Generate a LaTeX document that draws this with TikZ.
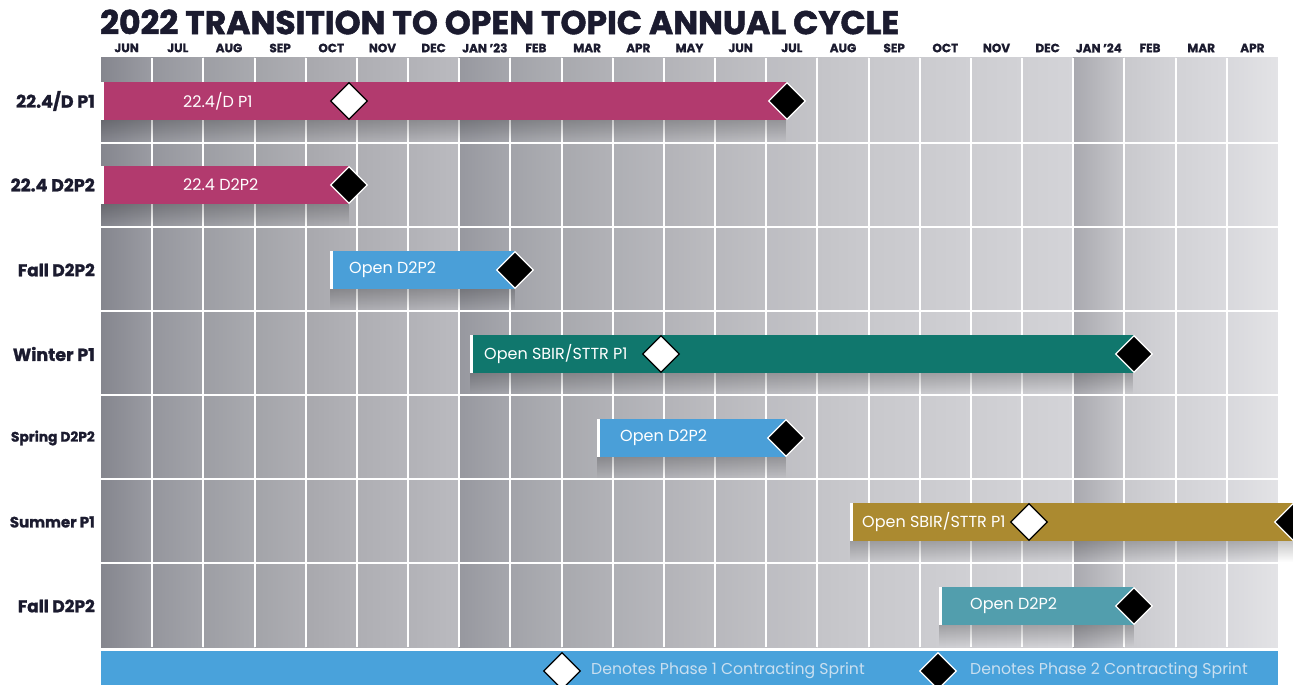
\documentclass[tikz,border=0pt]{standalone}
\usepackage{fontspec}
\setmainfont{Poppins}
\usetikzlibrary{shapes.geometric,fadings}
\definecolor{titleink}{HTML}{1B1B2F}
\definecolor{magentabar}{HTML}{B23A6E}
\definecolor{bluebar}{HTML}{4A9FD8}
\definecolor{tealbar}{HTML}{10776D}
\definecolor{goldbar}{HTML}{AB8A30}
\definecolor{cyanbar}{HTML}{529EAD}
\definecolor{legendblue}{HTML}{49A2DB}
\definecolor{legendink}{HTML}{C9DFF0}
\tikzfading[name=shadowfade, top color=transparent!78, bottom color=transparent!100]
\tikzset{
  month/.style={font=\bfseries\fontsize{12}{14}\selectfont\addfontfeature{FakeBold=1.2}, text=titleink},
  rowlabel/.style={anchor=east, inner sep=0pt, font=\bfseries\fontsize{17.5}{19}\selectfont\addfontfeature{FakeBold=1.2}, text=titleink},
  barlabel/.style={anchor=west, inner sep=0pt, text=white, font=\fontsize{16}{18}\selectfont},
  legendlabel/.style={anchor=west, inner sep=0pt, text=legendink, font=\fontsize{15.7}{18}\selectfont},
  gridline/.style={white, line width=2pt},
  barshadow/.style={fill=black, path fading=shadowfade},
  leadedge/.style={fill=white},
  phaseone/.style={shape=diamond, draw=black, fill=white, line width=1.3pt, minimum size=37pt, inner sep=0pt},
  phasetwo/.style={shape=diamond, draw=white, fill=black, line width=1.3pt, minimum size=37pt, inner sep=0pt},
}
\begin{document}
\begin{tikzpicture}[x=1pt,y=-1pt]
  \useasboundingbox (0,0) rectangle (1293,685);
  \fill[white] (0,0) rectangle (1293,685);
  % title
  \node[anchor=west, inner sep=0pt, text=titleink, font=\bfseries\fontsize{33}{36}\selectfont\addfontfeature{FakeBold=1.6}] (title) at (100,22) {2022 TRANSITION TO OPEN TOPIC ANNUAL CYCLE};
  % month columns
  \foreach \l/\r [count=\i from 0] in {85868E/9B9CA3,95969D/A3A4AA,9D9EA4/A9AAAF,A3A4A9/AEAEB3,A8A8AD/B2B2B7,AEAEB3/B6B6BB,B2B2B7/BBBBC0,97989F/A6A7AD,A2A3A9/ADAEB3,A8A9AE/B2B2B7,AEAFB4/B7B7BC,B3B3B8/BCBCC0,B8B8BD/C0C0C4,BDBDC2/C4C4C8,C4C4C8/CACACE,C8C8CC/CDCDD1,CBCBCF/D0D0D4,CDCDD1/D2D2D6,CFCFD3/D4D4D8,A9A9AF/C7C7CB,C9C9CD/D4D4D8,D2D2D6/DADADE,D8D8DC/E3E3E6}{
    \definecolor{colleft}{HTML}{\l}
    \definecolor{colright}{HTML}{\r}
    \shade[left color=colleft, right color=colright] ({101+\i*51.17},58) rectangle ({101+(\i+1)*51.17},647);
  }
  \foreach \m [count=\i from 0] in {JUN,JUL,AUG,SEP,OCT,NOV,DEC,JAN ’23,FEB,MAR,APR,MAY,JUN,JUL,AUG,SEP,OCT,NOV,DEC,JAN ’24,FEB,MAR,APR}
    \node[month] (m\i) at ({101+(\i+0.5)*51.17},48) {\m};
  \foreach \i in {1,...,22}
    \draw[gridline] ({101+\i*51.17},58) -- ({101+\i*51.17},647);
  \foreach \y in {143,227,311,395,479,563}
    \draw[gridline] (101,\y) -- (1278,\y);
  % row labels
  \node[rowlabel] (r1) at (95,101) {22.4/D P1};
  \node[rowlabel] (r2) at (95,185) {22.4 D2P2};
  \node[rowlabel, font=\bfseries\fontsize{17}{19}\selectfont\addfontfeature{FakeBold=1.2}] (r3) at (95,270) {Fall D2P2};
  \node[rowlabel] (r4) at (95,354) {Winter P1};
  \node[rowlabel, font=\bfseries\fontsize{13.8}{16}\selectfont\addfontfeature{FakeBold=1.2}] (r5) at (95,438) {Spring D2P2};
  \node[rowlabel, font=\bfseries\fontsize{15}{17}\selectfont\addfontfeature{FakeBold=1.2}] (r6) at (95,522) {Summer P1};
  \node[rowlabel, font=\bfseries\fontsize{17}{19}\selectfont\addfontfeature{FakeBold=1.2}] (r7) at (95,606) {Fall D2P2};
  % bars
  \fill[barshadow] (101,120) rectangle (787,142);
  \fill[magentabar] (101,82) rectangle (787,120);
  \fill[leadedge] (101,82) rectangle (104,120);
  \fill[barshadow] (101,204) rectangle (349,226);
  \fill[magentabar] (101,166) rectangle (349,204);
  \fill[leadedge] (101,166) rectangle (104,204);
  \fill[barshadow] (330,289) rectangle (515,310);
  \fill[bluebar] (330,251) rectangle (515,289);
  \fill[leadedge] (330,251) rectangle (333,289);
  \fill[barshadow] (470,373) rectangle (1134,394);
  \fill[tealbar] (470,335) rectangle (1134,373);
  \fill[leadedge] (470,335) rectangle (473,373);
  \fill[barshadow] (597,457) rectangle (786,478);
  \fill[bluebar] (597,419) rectangle (786,457);
  \fill[leadedge] (597,419) rectangle (600,457);
  \fill[barshadow] (850,541) rectangle (1293,562);
  \fill[goldbar] (850,503) rectangle (1293,541);
  \fill[leadedge] (850,503) rectangle (853,541);
  \fill[barshadow] (939,625) rectangle (1134,646);
  \fill[cyanbar] (939,587) rectangle (1134,625);
  \fill[leadedge] (939,587) rectangle (942,625);
  % bar labels
  \node[barlabel] (b1) at (183,101) {22.4/D P1};
  \node[barlabel] (b2) at (183,185) {22.4 D2P2};
  \node[barlabel] (b3) at (349,270) {Open D2P2};
  \node[barlabel] (b4) at (484,354) {Open SBIR/STTR P1};
  \node[barlabel] (b5) at (620,438) {Open D2P2};
  \node[barlabel] (b6) at (862,522) {Open SBIR/STTR P1};
  \node[barlabel] (b7) at (970,606) {Open D2P2};
  % sprint markers
  \node[phaseone] (s1a) at (349,101) {};
  \node[phasetwo] (s1b) at (787,101) {};
  \node[phasetwo] (s2b) at (349,185) {};
  \node[phasetwo] (s3b) at (515,270) {};
  \node[phaseone] (s4a) at (661,354) {};
  \node[phasetwo] (s4b) at (1134,354) {};
  \node[phasetwo] (s5b) at (786,438) {};
  \node[phaseone] (s6a) at (1029,522) {};
  \node[phasetwo] (s6b) at (1293,522) {};
  \node[phasetwo] (s7b) at (1134,606) {};
  % legend
  \fill[legendblue] (101,651) rectangle (1278,685);
  \node[phaseone] (k1) at (562,671) {};
  \node[legendlabel] (k1t) at (591,671) {Denotes Phase 1 Contracting Sprint};
  \node[phasetwo] (k2) at (938,671) {};
  \node[legendlabel] (k2t) at (970,671) {Denotes Phase 2 Contracting Sprint};
\end{tikzpicture}
\end{document}
